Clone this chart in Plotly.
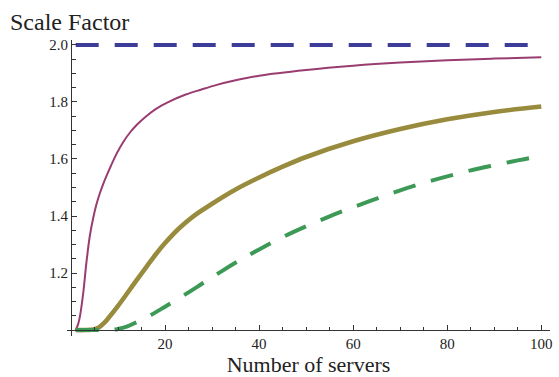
import plotly.graph_objects as go

# Scale factor versus number of servers, four scenarios
upper_x = [1, 100]
upper_y = [2.0, 2.0]

fast_x = [1, 1.5, 1.9, 2.6, 3.3, 4.0, 4.7, 5.4, 6.1, 6.8, 8.2, 9.65, 11.05, 12.5, 14, 16,
          18, 21, 24.4, 27.6, 31, 35, 40, 50, 60, 70, 80, 90, 100]
fast_y = [1.0, 1.02, 1.048, 1.13, 1.24, 1.33, 1.391, 1.44, 1.478, 1.51, 1.565, 1.617,
          1.658, 1.692, 1.72, 1.75, 1.775, 1.802, 1.826, 1.843, 1.860, 1.876, 1.892,
          1.912, 1.927, 1.938, 1.946, 1.952, 1.957]

mid_x = [1, 3, 5, 6, 7, 8, 10, 12, 14, 16, 18, 20, 23, 26, 30, 35, 40, 45, 50, 60, 70,
         80, 90, 100]
mid_y = [1.0, 1.0, 1.003, 1.010, 1.024, 1.043, 1.085, 1.130, 1.176, 1.221, 1.265, 1.305,
         1.357, 1.399, 1.443, 1.493, 1.535, 1.573, 1.607, 1.662, 1.705, 1.739, 1.765, 1.784]

slow_x = [1, 5, 8, 9, 10, 12, 14, 17, 20, 24, 28, 32, 36, 40, 45, 50, 55, 60, 65, 70, 75,
          80, 85, 90, 95, 100]
slow_y = [1.0, 1.0, 1.0, 1.001, 1.004, 1.013, 1.028, 1.053, 1.082, 1.122, 1.164, 1.206,
          1.246, 1.283, 1.326, 1.364, 1.399, 1.431, 1.461, 1.490, 1.516, 1.539, 1.560,
          1.578, 1.595, 1.610]

x_ticks = [20, 40, 60, 80, 100]
x_minor = [v for v in range(5, 101, 5) if v % 20]
y_ticks = [1.2, 1.4, 1.6, 1.8, 2.0]
y_minor = [round(1.05 + 0.05 * i, 2) for i in range(20) if round((1.05 + 0.05 * i) * 100) % 20]

x_range = [-0.85, 101.85]
y_range = [0.9792, 2.0173]
x_axis_at = (1.0 - y_range[0]) / (y_range[1] - y_range[0])
y_axis_at = (0 - x_range[0]) / (x_range[1] - x_range[0])

BLUE = "rgb(61,61,153)"
PURPLE = "rgb(153,61,113)"
OLIVE = "rgb(153,139,61)"
GREEN = "rgb(61,153,86)"
DASH = "23px,16px"

fig = go.Figure()
fig.add_trace(go.Scatter(x=upper_x, y=upper_y, mode="lines",
                         line=dict(color=BLUE, width=4, dash=DASH)))
fig.add_trace(go.Scatter(x=fast_x, y=fast_y, mode="lines",
                         line=dict(color=PURPLE, width=2, shape="spline", smoothing=1)))
fig.add_trace(go.Scatter(x=mid_x, y=mid_y, mode="lines",
                         line=dict(color=OLIVE, width=4.6, shape="spline", smoothing=1)))
fig.add_trace(go.Scatter(x=slow_x, y=slow_y, mode="lines",
                         line=dict(color=GREEN, width=4, dash=DASH, shape="spline", smoothing=1)))

SERIF = "Liberation Serif"
INK = "#222"
axis_color = "#333"

common_axis = dict(showgrid=False, zeroline=False, anchor="free",
                   tickcolor=axis_color, tickwidth=1)

fig.update_layout(
    width=559, height=377,
    margin=dict(l=67, r=6, t=40, b=37),
    paper_bgcolor="white", plot_bgcolor="white",
    showlegend=False,
    font=dict(family=SERIF, color=INK, size=15),
    title=dict(text="Scale Factor", x=10 / 559, xanchor="left", xref="container",
               y=1 - 22 / 377, yanchor="middle", yref="container",
               font=dict(family=SERIF, color=INK, size=24)),
    xaxis=dict(
        **common_axis, range=x_range, position=x_axis_at,
        showline=True, linecolor=axis_color, linewidth=1,
        tickvals=x_ticks, ticks="inside", ticklen=5,
        tickfont=dict(family=SERIF, color=INK, size=15),
        minor=dict(tickvals=x_minor, ticks="inside", ticklen=3, tickcolor=axis_color, tickwidth=1),
        title=dict(text="Number of servers", font=dict(family=SERIF, color=INK, size=22), standoff=4),
    ),
    yaxis=dict(
        **common_axis, range=y_range, position=y_axis_at,
        showline=True, linecolor=axis_color, linewidth=1,
        tickvals=y_ticks, ticktext=[f"{v:.1f}" for v in y_ticks],
        ticks="inside", ticklen=5,
        tickfont=dict(family=SERIF, color=INK, size=15),
        minor=dict(tickvals=y_minor, ticks="inside", ticklen=4, tickcolor=axis_color, tickwidth=1),
    ),
    # short outward stubs of the major ticks, so they cross the axis lines
    xaxis2=dict(**common_axis, overlaying="x", range=x_range, position=x_axis_at,
                showline=False, tickvals=x_ticks, ticks="outside", ticklen=2,
                showticklabels=False),
    yaxis2=dict(**common_axis, overlaying="y", range=y_range, position=y_axis_at,
                showline=False, tickvals=y_ticks, ticks="outside", ticklen=3,
                showticklabels=False),
)

fig.write_html("out.html")
